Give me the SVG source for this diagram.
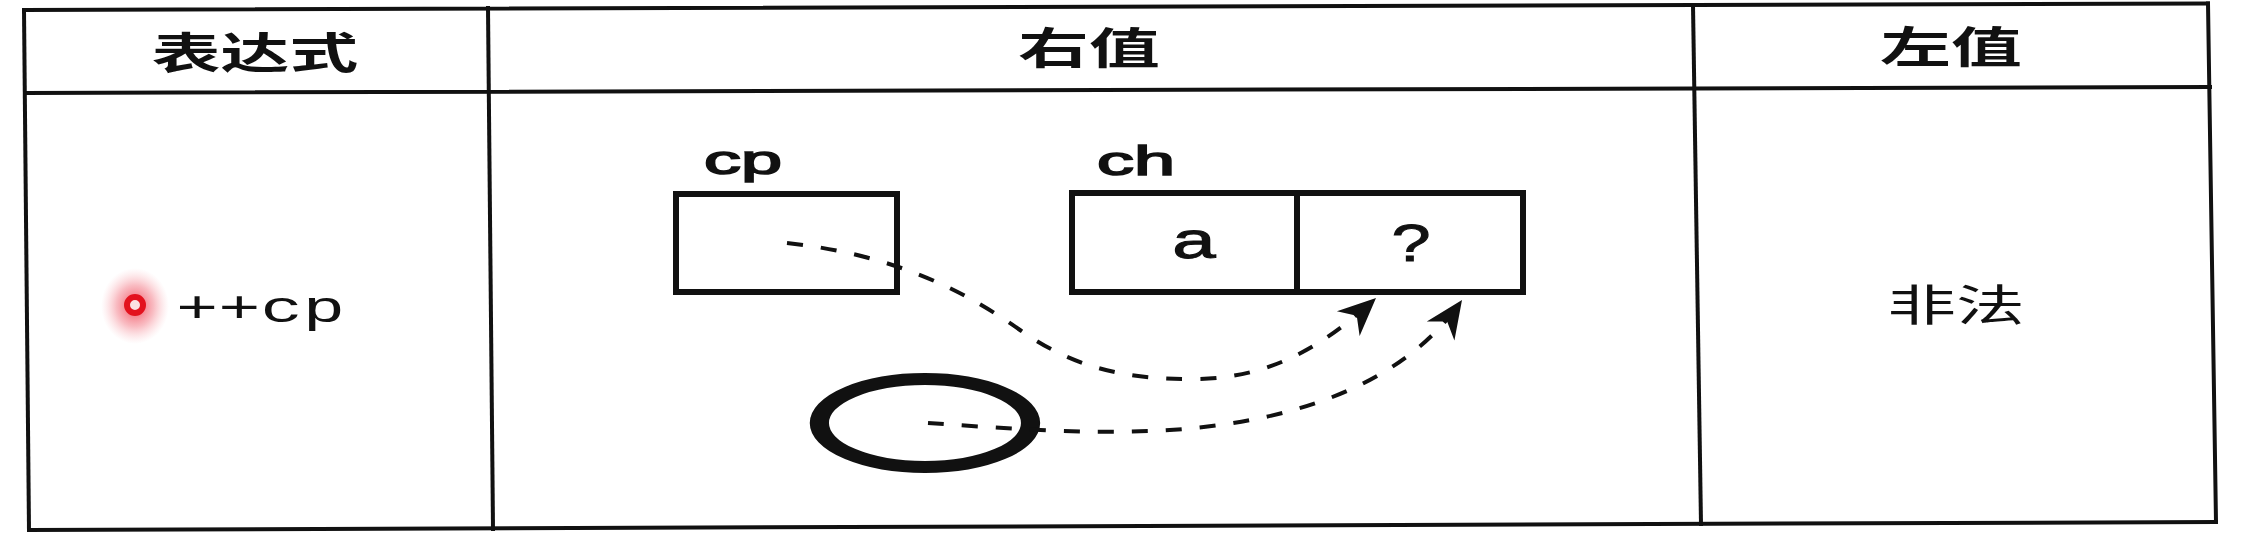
<svg xmlns="http://www.w3.org/2000/svg" width="2248" height="542" viewBox="0 0 2248 542">
<style>
.tl{stroke:#111;stroke-width:4;fill:none;stroke-linecap:square}
.box{stroke:#111;stroke-width:6;fill:none}
.cjk{font-family:"Noto Sans CJK SC","Noto Sans",sans-serif;fill:#111}
.hd{font-size:43px;font-weight:700}
.lbl{font-family:"Liberation Sans",Arial,sans-serif;fill:#111;stroke:#111;stroke-width:1.6;font-size:41px}
.val{font-family:"Liberation Sans",Arial,sans-serif;fill:#111;stroke:#111;stroke-width:1;font-size:52px}
.code{font-family:"Liberation Mono","Courier New",monospace;fill:#111;font-size:44px}
.dash{stroke:#111;stroke-width:4;fill:none;stroke-dasharray:16 18}
</style>
<defs>
<marker id="ah" markerUnits="userSpaceOnUse" markerWidth="44" markerHeight="44" viewBox="-38 -20 42 40" refX="0" refY="0" orient="auto">
<path d="M0,0 L-36,-16 L-25,0 L-36,16 Z" fill="#111"/>
</marker>
<radialGradient id="glow">
<stop offset="0" stop-color="#ee3040" stop-opacity="0.85"/>
<stop offset="0.55" stop-color="#f05868" stop-opacity="0.4"/>
<stop offset="1" stop-color="#f8a0a8" stop-opacity="0"/>
</radialGradient>
</defs>
<rect width="2248" height="542" fill="#fff"/>
<g id="table">
<line class="tl" x1="25" y1="10" x2="2208" y2="3.5"/>
<line class="tl" x1="26" y1="93" x2="2210" y2="87"/>
<line class="tl" x1="29" y1="530" x2="2216" y2="522"/>
<line class="tl" x1="24" y1="10" x2="29" y2="530"/>
<line class="tl" x1="488" y1="8" x2="493" y2="529"/>
<line class="tl" x1="1693" y1="5" x2="1701" y2="524"/>
<line class="tl" x1="2208" y1="3.5" x2="2216" y2="522"/>
</g>
<g id="headers">
<text class="cjk hd" text-anchor="middle" transform="translate(255,69) scale(1.6,1)">表达式</text>
<text class="cjk hd" text-anchor="middle" transform="translate(1089,64) scale(1.65,1)">右值</text>
<text class="cjk hd" text-anchor="middle" transform="translate(1951,63) scale(1.65,1)">左值</text>
</g>
<g id="expr">
<ellipse cx="135" cy="306" rx="34" ry="38" fill="url(#glow)"/>
<circle cx="135" cy="305" r="8" fill="#fbe0e2" stroke="#e3121e" stroke-width="6"/>
<text class="code" transform="translate(176,322) scale(1.6,1)">++cp</text>
</g>
<g id="cp">
<rect class="box" x="676" y="194" width="221" height="98"/>
<text class="lbl" transform="translate(704,174) scale(1.8,1)">cp</text>
</g>
<g id="ch">
<rect class="box" x="1072" y="193" width="451" height="99"/>
<line class="box" x1="1297" y1="193" x2="1297" y2="292"/>
<text class="lbl" transform="translate(1097,175) scale(1.8,1)">ch</text>
<text class="val" text-anchor="middle" transform="translate(1194,258) scale(1.5,1)">a</text>
<text class="val" text-anchor="middle" transform="translate(1411,261) scale(1.35,1)">?</text>
</g>
<g id="temp">
<ellipse cx="578.1" cy="423" rx="66" ry="44" fill="none" stroke="#111" stroke-width="12" transform="scale(1.6,1)"/>
</g>
<g id="illegal">
<text class="cjk" font-size="43" text-anchor="middle" transform="translate(1956,321) scale(1.6,1)">非法</text>
</g>
<g id="connectors">
<path class="dash" marker-end="url(#ah)" d="M787,243 C900,255 970,295 1020,330 S1120,380 1196,379 S1325,345 1376,298"/>
<path class="dash" marker-end="url(#ah)" d="M928,423 C1000,428 1080,434 1150,431 C1280,426 1400,390 1462,300"/>
</g>
</svg>
